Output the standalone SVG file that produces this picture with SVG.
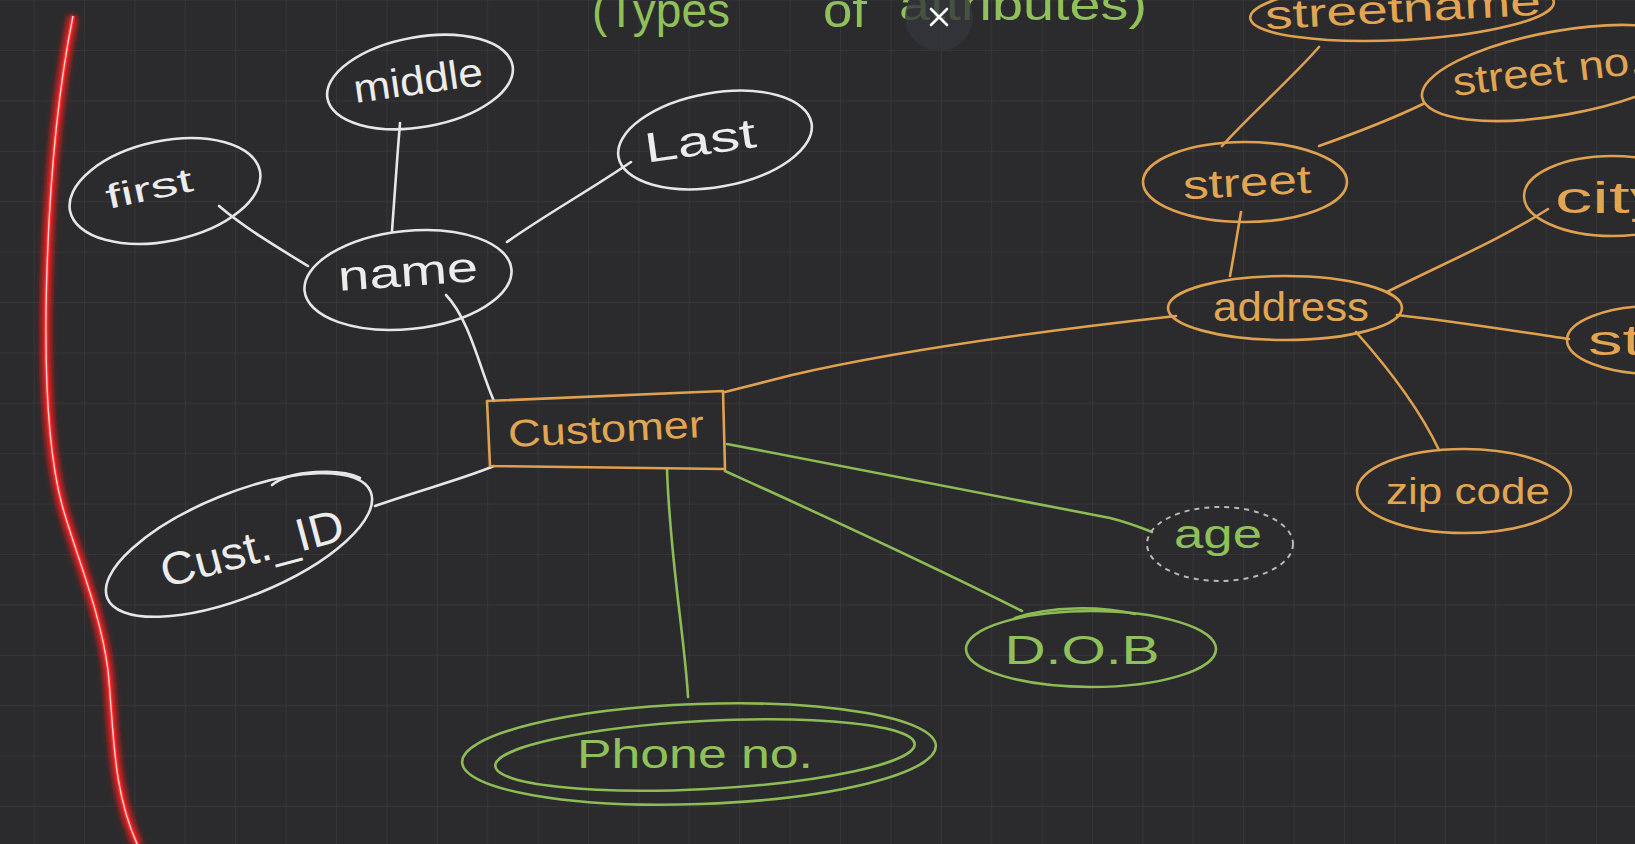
<svg xmlns="http://www.w3.org/2000/svg" width="1635" height="844" viewBox="0 0 1635 844">
<defs>
  <pattern id="grid" x="33.6" y="-0.4" width="50.4" height="50.4" patternUnits="userSpaceOnUse">
    <path d="M0 0H50.4M0 0V50.4" fill="none" stroke="#38383b" stroke-width="1.6"/>
  </pattern>
  <filter id="glow" x="-50%" y="-10%" width="200%" height="120%">
    <feGaussianBlur stdDeviation="3"/>
  </filter>
  <style>
    .w{fill:none;stroke:#e6e6e6;stroke-width:2.6;stroke-linecap:round;stroke-linejoin:round}
    .o{fill:none;stroke:#dfa14f;stroke-width:2.6;stroke-linecap:round;stroke-linejoin:round}
    .g{fill:none;stroke:#8dbb55;stroke-width:2.6;stroke-linecap:round;stroke-linejoin:round}
    .d{fill:none;stroke:#b8b8b8;stroke-width:2;stroke-dasharray:5 5}
    text{font-family:"Liberation Sans",Arial,sans-serif;text-anchor:middle}
    text.s{text-anchor:start}
    .tw{fill:#ececec}
    .to{fill:#e2a552}
    .tg{fill:#90c05a}
  </style>
</defs>
<rect width="1635" height="844" fill="#2b2b2d"/>
<rect width="1635" height="844" fill="url(#grid)"/>

<!-- red margin line -->
<g id="margin">
  <path d="M73,16 C58,90 48,190 46,310 C45,400 50,460 62,505 C76,555 100,610 108,670 C114,730 112,790 138,846" fill="none" stroke="#ff1a1a" stroke-width="9" filter="url(#glow)"/>
  <path d="M73,16 C58,90 48,190 46,310 C45,400 50,460 62,505 C76,555 100,610 108,670 C114,730 112,790 138,846" fill="none" stroke="#ff2b2b" stroke-width="4"/>
  <path d="M73,16 C58,90 48,190 46,310 C45,400 50,460 62,505 C76,555 100,610 108,670 C114,730 112,790 138,846" fill="none" stroke="#ffd0d0" stroke-width="1.4"/>
</g>

<!-- title (cut off at top) -->
<g id="title">
  <text class="tg s" x="592" y="27" font-size="48" textLength="138" lengthAdjust="spacingAndGlyphs">(Types</text>
  <text class="tg s" x="823" y="27" font-size="48" textLength="44" lengthAdjust="spacingAndGlyphs">of</text>
  <text class="tg s" x="899" y="20" font-size="44" textLength="248" lengthAdjust="spacingAndGlyphs">attributes)</text>
</g>

<!-- connectors -->
<g id="connectors">
  <path class="w" d="M219,206 C245,228 275,246 308,266"/>
  <path class="w" d="M400,123 C397,160 394,200 392,231"/>
  <path class="w" d="M631,162 C590,190 545,215 507,242"/>
  <path class="w" d="M446,295 C470,320 480,370 494,401"/>
  <path class="w" d="M375,506 C420,490 460,480 494,466"/>
  <path class="o" d="M725,392 L792,375 C900,350 1050,330 1176,316"/>
  <path class="g" d="M727,444 C870,472 1010,498 1110,518 C1130,523 1142,528 1152,532"/>
  <path class="g" d="M725,471 C800,505 900,550 1022,611"/>
  <path class="g" d="M667,469 C670,560 685,640 688,697"/>
  <path class="o" d="M1241,212 C1237,235 1234,255 1230,276"/>
  <path class="o" d="M1319,47 C1290,80 1250,115 1222,146"/>
  <path class="o" d="M1423,104 C1390,120 1350,135 1319,146"/>
  <path class="o" d="M1387,292 C1440,265 1500,240 1548,209"/>
  <path class="o" d="M1397,315 C1460,322 1520,332 1569,339"/>
  <path class="o" d="M1356,332 C1390,370 1420,410 1439,450"/>
</g>

<g id="first">
  <ellipse class="w" cx="165" cy="191" rx="97" ry="50" transform="rotate(-12 165 191)"/>
  <text class="tw" x="149" y="200" font-size="34" textLength="88" lengthAdjust="spacingAndGlyphs" transform="rotate(-12 149 188)">first</text>
</g>
<g id="middle">
  <ellipse class="w" cx="420" cy="82" rx="94" ry="45" transform="rotate(-10 420 82)"/>
  <text class="tw" x="418" y="94" font-size="40" textLength="130" lengthAdjust="spacingAndGlyphs" transform="rotate(-8 418 80)">middle</text>
</g>
<g id="last">
  <ellipse class="w" cx="715" cy="140" rx="98" ry="47" transform="rotate(-10 715 140)"/>
  <text class="tw" x="700" y="155" font-size="42" textLength="112" lengthAdjust="spacingAndGlyphs" transform="rotate(-8 700 140)">Last</text>
</g>
<g id="name">
  <ellipse class="w" cx="408" cy="280" rx="104" ry="49" transform="rotate(-6 408 280)"/>
  <text class="tw" x="408" y="286" font-size="42" textLength="140" lengthAdjust="spacingAndGlyphs" transform="rotate(-4 408 273)">name</text>
</g>
<g id="customer">
  <path class="o" d="M487,401 L723,391 L725,469 L490,466 Z"/>
  <text class="to" x="606" y="442" font-size="38" textLength="196" lengthAdjust="spacingAndGlyphs" transform="rotate(-3 606 430)">Customer</text>
</g>
<g id="cust-id">
  <ellipse class="w" cx="239" cy="545" rx="142" ry="52" transform="rotate(-22 239 545)"/>
  <path class="w" d="M272,485 C290,470 340,468 360,478"/>
  <text class="tw" x="252" y="564" font-size="46" textLength="188" lengthAdjust="spacingAndGlyphs" transform="rotate(-15 252 548)">Cust._ID</text>
</g>
<g id="phone">
  <ellipse class="g" cx="699" cy="754" rx="237" ry="50" transform="rotate(-2 699 754)"/>
  <ellipse class="g" cx="705" cy="755" rx="210" ry="34" transform="rotate(-3 705 755)"/>
  <text class="tg" x="695" y="768" font-size="40" textLength="236" lengthAdjust="spacingAndGlyphs">Phone no.</text>
</g>
<g id="dob">
  <ellipse class="g" cx="1091" cy="649" rx="125" ry="38"/>
  <path class="g" d="M1015,618 C1050,606 1100,606 1135,614"/>
  <text class="tg" x="1082" y="664" font-size="40" textLength="155" lengthAdjust="spacingAndGlyphs">D.O.B</text>
</g>
<g id="age">
  <ellipse class="d" cx="1220" cy="544" rx="73" ry="37"/>
  <text class="tg" x="1218" y="548" font-size="40" textLength="88" lengthAdjust="spacingAndGlyphs">age</text>
</g>
<g id="address">
  <ellipse class="o" cx="1285" cy="308" rx="117" ry="32"/>
  <text class="to" x="1291" y="321" font-size="40" textLength="156" lengthAdjust="spacingAndGlyphs">address</text>
</g>
<g id="street">
  <ellipse class="o" cx="1245" cy="182" rx="102" ry="40"/>
  <text class="to" x="1247" y="196" font-size="40" textLength="128" lengthAdjust="spacingAndGlyphs" transform="rotate(-3 1247 183)">street</text>
</g>
<g id="streetname">
  <ellipse class="o" cx="1402" cy="10" rx="152" ry="30" transform="rotate(-3 1402 10)"/>
  <text class="to" x="1403" y="22" font-size="40" textLength="276" lengthAdjust="spacingAndGlyphs" transform="rotate(-3 1403 10)">streetname</text>
</g>
<g id="streetno">
  <ellipse class="o" cx="1560" cy="73" rx="140" ry="42" transform="rotate(-10 1560 73)"/>
  <text class="to s" x="1453" y="96" font-size="40" textLength="190" lengthAdjust="spacingAndGlyphs" transform="rotate(-7 1453 84)">street no.</text>
</g>
<g id="city">
  <ellipse class="o" cx="1612" cy="196" rx="88" ry="40"/>
  <text class="to s" x="1555" y="213" font-size="44" textLength="112" lengthAdjust="spacingAndGlyphs">city</text>
</g>
<g id="state">
  <ellipse class="o" cx="1655" cy="340" rx="88" ry="34"/>
  <text class="to s" x="1588" y="355" font-size="42" textLength="150" lengthAdjust="spacingAndGlyphs">state</text>
</g>
<g id="zipcode">
  <ellipse class="o" cx="1464" cy="491" rx="107" ry="42"/>
  <text class="to" x="1468" y="504" font-size="36" textLength="164" lengthAdjust="spacingAndGlyphs">zip code</text>
</g>

<!-- close button overlay -->
<g id="close">
  <circle cx="939" cy="17" r="34" fill="#33363b" opacity="0.8"/>
  <path d="M931,9 L947,25 M947,9 L931,25" stroke="#ffffff" stroke-width="2.6" stroke-linecap="round"/>
</g>
</svg>
